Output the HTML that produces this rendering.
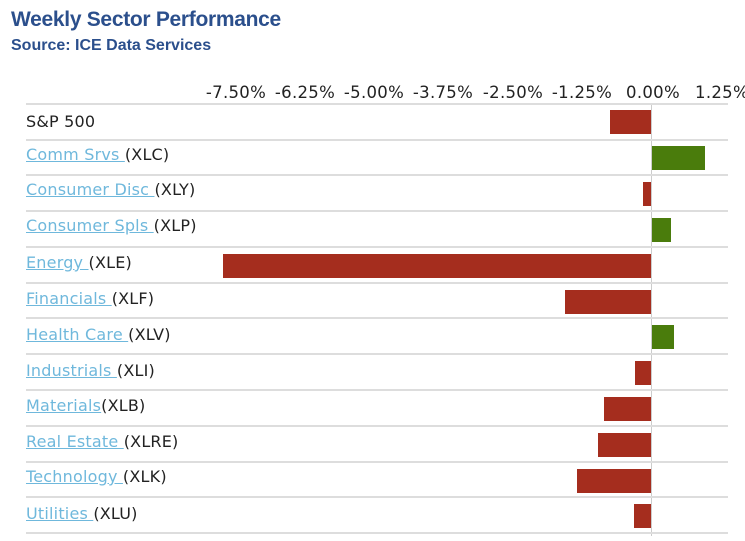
<!DOCTYPE html>
<html><head><style>
body{margin:0;width:745px;height:541px;background:#fff;overflow:hidden;font-family:"DejaVu Sans","Liberation Sans",sans-serif;position:relative}
.t{position:absolute;left:11px;top:8px;font:bold 21px "Liberation Sans",sans-serif;color:#2b4f8c;letter-spacing:-0.3px}
.s{position:absolute;left:11px;top:37px;font:bold 16px "Liberation Sans",sans-serif;color:#2b4f8c}
.tk{position:absolute;top:83px;font-size:16.5px;color:#222;transform:translateX(-50%);white-space:nowrap;letter-spacing:0.3px}
.ln{position:absolute;left:26px;width:702px;height:2px;background:#ddd}
.lb{position:absolute;left:26px;font-size:16px;color:#222;white-space:nowrap;letter-spacing:0.2px}
.lb u{color:#6fb8dc;text-decoration-color:#6fb8dc}
.b{position:absolute;height:24px}
.r{background:#a52d1e}.g{background:#4a7c0c}
.z{position:absolute;left:651px;top:104px;width:1px;height:432px;background:#ccc}
</style></head><body>
<div class="t">Weekly Sector Performance</div>
<div class="s">Source: ICE Data Services</div>
<div class="tk" style="left:236px">-7.50%</div>
<div class="tk" style="left:305px">-6.25%</div>
<div class="tk" style="left:374px">-5.00%</div>
<div class="tk" style="left:443px">-3.75%</div>
<div class="tk" style="left:513px">-2.50%</div>
<div class="tk" style="left:582px">-1.25%</div>
<div class="tk" style="left:653px">0.00%</div>
<div class="tk" style="left:722px">1.25%</div>
<div class="z"></div>
<div class="ln" style="top:103px"></div>
<div class="ln" style="top:139px"></div>
<div class="ln" style="top:174px"></div>
<div class="ln" style="top:210px"></div>
<div class="ln" style="top:246px"></div>
<div class="ln" style="top:282px"></div>
<div class="ln" style="top:317px"></div>
<div class="ln" style="top:353px"></div>
<div class="ln" style="top:389px"></div>
<div class="ln" style="top:425px"></div>
<div class="ln" style="top:461px"></div>
<div class="ln" style="top:496px"></div>
<div class="ln" style="top:532px"></div>
<div class="lb" style="top:112px">S&amp;P 500</div>
<div class="lb" style="top:145px"><u>Comm Srvs </u>(XLC)</div>
<div class="lb" style="top:180px"><u>Consumer Disc </u>(XLY)</div>
<div class="lb" style="top:216px"><u>Consumer Spls </u>(XLP)</div>
<div class="lb" style="top:253px"><u>Energy </u>(XLE)</div>
<div class="lb" style="top:289px"><u>Financials </u>(XLF)</div>
<div class="lb" style="top:325px"><u>Health Care </u>(XLV)</div>
<div class="lb" style="top:361px"><u>Industrials </u>(XLI)</div>
<div class="lb" style="top:396px"><u>Materials</u>(XLB)</div>
<div class="lb" style="top:432px"><u>Real Estate </u>(XLRE)</div>
<div class="lb" style="top:467px"><u>Technology </u>(XLK)</div>
<div class="lb" style="top:504px"><u>Utilities </u>(XLU)</div>
<div class="b r" style="left:610px;width:41px;top:110px"></div>
<div class="b g" style="left:652px;width:53px;top:146px"></div>
<div class="b r" style="left:643px;width:8px;top:182px"></div>
<div class="b g" style="left:652px;width:19px;top:218px"></div>
<div class="b r" style="left:223px;width:428px;top:254px"></div>
<div class="b r" style="left:565px;width:86px;top:290px"></div>
<div class="b g" style="left:652px;width:22px;top:325px"></div>
<div class="b r" style="left:635px;width:16px;top:361px"></div>
<div class="b r" style="left:604px;width:47px;top:397px"></div>
<div class="b r" style="left:598px;width:53px;top:433px"></div>
<div class="b r" style="left:577px;width:74px;top:469px"></div>
<div class="b r" style="left:634px;width:17px;top:504px"></div>
</body></html>
